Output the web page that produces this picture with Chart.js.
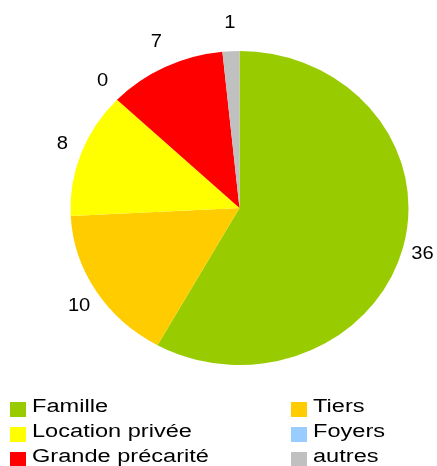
<!DOCTYPE html>
<html>
<head>
<meta charset="utf-8">
<script src="https://cdn.jsdelivr.net/npm/chart.js@4.4.0/dist/chart.umd.min.js"></script>
<style>
  html, body { margin: 0; padding: 0; background: #fff; }
</style>
</head>
<body>
<canvas id="graph" width="437" height="466"></canvas>
<script>
const labels = ["Famille", "Tiers", "Location privée", "Foyers", "Grande précarité", "autres"];
const values = [36, 10, 8, 0, 7, 1];
const colors = ["#99cc00", "#ffcc00", "#ffff00", "#99ccff", "#ff0000", "#c0c0c0"];

const yRatio = 157 / 169; // the pie is a bit flattened in the original
const font = '18px "Liberation Sans", Arial, sans-serif';

// text in the original is drawn wider than normal
function wideText(ctx, txt, x, y, sx) {
  ctx.save();
  ctx.translate(x, y);
  ctx.scale(sx, 1);
  ctx.fillText(txt, 0, 0);
  ctx.restore();
}

// squash the pie vertically around its centre
const ellipse = {
  id: 'ellipse',
  beforeDatasetsDraw(chart) {
    const arc = chart.getDatasetMeta(0).data[0];
    const ctx = chart.ctx;
    ctx.save();
    ctx.translate(arc.x, arc.y);
    ctx.scale(1, yRatio);
    ctx.translate(-arc.x, -arc.y);
  },
  afterDatasetsDraw(chart) {
    chart.ctx.restore();
  }
};

// numbers outside each slice
const valueLabels = {
  id: 'valueLabels',
  afterDraw(chart) {
    const ctx = chart.ctx;
    const meta = chart.getDatasetMeta(0);
    ctx.save();
    ctx.font = font;
    ctx.fillStyle = "#000";
    ctx.textAlign = "center";
    ctx.textBaseline = "middle";
    meta.data.forEach((arc, i) => {
      const mid = (arc.startAngle + arc.endAngle) / 2;
      const dx = arc.outerRadius + 20;
      const dy = arc.outerRadius + 16;
      wideText(ctx, String(values[i]), arc.x + Math.cos(mid) * dx, arc.y + Math.sin(mid) * dy, 1.12);
    });
    ctx.restore();
  }
};

// legend in two columns under the pie
const legend2col = {
  id: 'legend2col',
  afterDraw(chart) {
    const ctx = chart.ctx;
    const colX = [10, 291];
    const baseY = 412;
    const rowH = 25;
    ctx.save();
    ctx.font = font;
    ctx.textBaseline = "alphabetic";
    ctx.textAlign = "left";
    chart.data.labels.forEach((lab, i) => {
      const x = colX[i % 2];
      const y = baseY + Math.floor(i / 2) * rowH;
      ctx.fillStyle = chart.data.datasets[0].backgroundColor[i];
      ctx.fillRect(x, y - 10, 16, 15);
      ctx.fillStyle = "#000";
      wideText(ctx, lab, x + 22, y, 1.31);
    });
    ctx.restore();
  }
};

const graph = document.getElementById("graph");
const graphChart = new Chart(graph, {
  type: 'pie',
  data: {
    labels: labels,
    datasets: [{
      data: values,
      backgroundColor: colors,
      borderWidth: 0,
      hoverOffset: 0
    }]
  },
  options: {
    responsive: false,
    animation: false,
    layout: { padding: { left: 70.5, right: 28.5, top: 39, bottom: 89 } },
    plugins: {
      legend: { display: false },
      tooltip: { enabled: false }
    }
  },
  plugins: [ellipse, valueLabels, legend2col]
});
</script>
</body>
</html>
